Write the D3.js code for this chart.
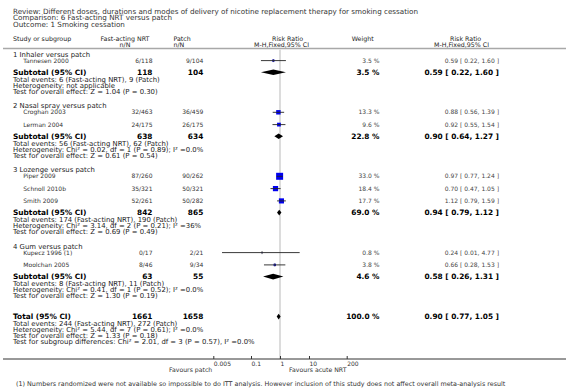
<!DOCTYPE html>
<html>
<head>
<meta charset="utf-8">
<script src="https://cdn.jsdelivr.net/npm/d3@7"></script>
<style>
  body { margin: 0; background: #fff; }
  svg { display: block; font-family: "DejaVu Sans", Verdana, sans-serif; }
</style>
</head>
<body>
<script>
// header lines
const titleLines = [
  "Review:  Different doses, durations and modes of delivery of nicotine replacement therapy for smoking cessation",
  "Comparison:  6 Fast-acting NRT versus patch",
  "Outcome:  1 Smoking cessation"
];

// subgroups
const groups = ["1 Inhaler versus patch", "2 Nasal spray versus patch", "3 Lozenge versus patch", "4 Gum versus patch"];

// studies
const studies = ["Tannesen 2000", "Croghan 2003", "Lerman 2004", "Piper 2009", "Schnoll 2010b", "Smith 2009", "Kupecz 1996 (1)", "Moolchan 2005"];
const studyGroup = [0, 1, 1, 2, 2, 2, 3, 3];
const fastNRT = ["6/118", "32/463", "24/175", "87/260", "35/321", "52/261", "0/17", "8/46"];
const patch = ["9/104", "36/459", "26/175", "90/262", "50/321", "50/282", "2/21", "9/34"];
const weight = [3.5, 13.3, 9.6, 33.0, 18.4, 17.7, 0.8, 3.8];
const rr = [0.59, 0.88, 0.92, 0.97, 0.70, 1.12, 0.24, 0.66];
const rrLo = [0.22, 0.56, 0.55, 0.77, 0.47, 0.79, 0.01, 0.28];
const rrHi = [1.60, 1.39, 1.54, 1.24, 1.05, 1.59, 4.77, 1.53];

// subtotals
const subFast = [118, 638, 842, 63];
const subPatch = [104, 634, 865, 55];
const subWeight = [3.5, 22.8, 69.0, 4.6];
const subRR = [0.59, 0.90, 0.94, 0.58];
const subLo = [0.22, 0.64, 0.79, 0.26];
const subHi = [1.60, 1.27, 1.12, 1.31];
const subStats = [
  ["Total events: 6 (Fast-acting NRT), 9 (Patch)", "Heterogeneity: not applicable", "Test for overall effect: Z = 1.04 (P = 0.30)"],
  ["Total events: 56 (Fast-acting NRT), 62 (Patch)", "Heterogeneity: Chi\u00b2 = 0.02, df = 1 (P = 0.89); I\u00b2 =0.0%", "Test for overall effect: Z = 0.61 (P = 0.54)"],
  ["Total events: 174 (Fast-acting NRT), 190 (Patch)", "Heterogeneity: Chi\u00b2 = 3.14, df = 2 (P = 0.21); I\u00b2 =36%", "Test for overall effect: Z = 0.69 (P = 0.49)"],
  ["Total events: 8 (Fast-acting NRT), 11 (Patch)", "Heterogeneity: Chi\u00b2 = 0.41, df = 1 (P = 0.52); I\u00b2 =0.0%", "Test for overall effect: Z = 1.30 (P = 0.19)"]
];

// overall
const totalFast = 1661, totalPatch = 1658, totalWeight = 100.0;
const totalRR = 0.90, totalLo = 0.77, totalHi = 1.05;
const totalStats = [
  "Total events: 244 (Fast-acting NRT), 272 (Patch)",
  "Heterogeneity: Chi\u00b2 = 5.44, df = 7 (P = 0.61); I\u00b2 =0.0%",
  "Test for overall effect: Z = 1.33 (P = 0.18)",
  "Test for subgroup differences: Chi\u00b2 = 2.01, df = 3 (P = 0.57), I\u00b2 =0.0%"
];

const axisTicks = [0.005, 0.1, 1, 10, 200];
const footnote = "(1) Numbers randomized were not available so impossible to do ITT analysis. However inclusion of this study does not affect overall meta-analysis result";

const W = 566, H = 388;
const svg = d3.select("body").append("svg").attr("width", W).attr("height", H);

const x = d3.scaleLog().domain([0.005, 200]).range([213.3, 346.7]);
const box = d3.scaleSqrt().domain([0, 33]).range([0, 7]);

const colFast = 152.5, colPatch = 203.3, colWeight = 379.5, colCI = 499;
const fmtCI = (e, l, h) => e.toFixed(2) + " [ " + l.toFixed(2) + ", " + h.toFixed(2) + " ]";
const fmtW = w => w.toFixed(1) + " %";

// text sizes
const fsTitle = 7.2, fsHead = 6.3, fsStat = 6.9, fsStudy = 6, fsBold = 7.4;

function txt(xp, y, s, opt) {
  opt = opt || {};
  return svg.append("text")
    .attr("x", xp).attr("y", y).attr("dy", "0.35em")
    .attr("text-anchor", opt.anchor || "start")
    .style("font-size", (opt.size || fsStat) + "px")
    .style("font-weight", opt.bold ? "bold" : "normal")
    .style("fill", opt.fill || "#222")
    .text(s);
}

// title block
titleLines.forEach((t, i) => txt(13, 11 + i * 6.6, t, { size: fsTitle, fill: "#333" }));

// column headers
txt(13, 38.3, "Study or subgroup", { size: fsHead });
txt(125, 38.3, "Fast-acting NRT", { anchor: "middle", size: fsHead });
txt(125, 44.3, "n/N", { anchor: "middle", size: fsHead });
txt(173.5, 38.3, "Patch", { size: fsHead });
txt(173.5, 44.3, "n/N", { size: fsHead });
txt(272, 38.3, "Risk Ratio", { size: fsHead });
txt(254, 44.3, "M-H,Fixed,95% CI", { size: fsHead });
txt(351.7, 38.3, "Weight", { size: fsHead });
txt(450, 38.3, "Risk Ratio", { size: fsHead });
txt(434, 44.3, "M-H,Fixed,95% CI", { size: fsHead });

svg.append("line")
  .attr("x1", 3).attr("x2", W).attr("y1", 48.5).attr("y2", 48.5)
  .attr("stroke", "#a8a8a8").attr("stroke-width", 1.5);

// vertical line of no effect
svg.append("line")
  .attr("x1", x(1)).attr("x2", x(1)).attr("y1", 49.5).attr("y2", 359)
  .attr("stroke", "#dcdcdc").attr("stroke-width", 2);

// row layout
let y = 54.3;
const studyRows = [], subRows = [];
groups.forEach((g, gi) => {
  txt(13, y, g);
  y += 6.3;
  const idx = studies.map((s, i) => i).filter(i => studyGroup[i] === gi);
  idx.forEach((i, k) => {
    if (k > 0) y += 12.3;
    studyRows.push({ i: i, y: y });
  });
  y += 11.7;
  subRows.push({ g: gi, y: y });
  y += 7;
  subStats[gi].forEach((s, k) => txt(13, y + k * 6, s));
  y += 12;
  y += (gi < groups.length - 1) ? 14.7 : 21;
});
const totalY = y;
totalStats.forEach((s, k) => txt(13, totalY + 7 + k * 6, s));

// study rows text
studyRows.forEach(r => {
  const i = r.i;
  txt(23.3, r.y, studies[i], { size: fsStudy, fill: "#333" });
  txt(colFast, r.y, fastNRT[i], { size: fsStudy, anchor: "end", fill: "#333" });
  txt(colPatch, r.y, patch[i], { size: fsStudy, anchor: "end", fill: "#333" });
  txt(colWeight, r.y, fmtW(weight[i]), { size: fsStudy, anchor: "end", fill: "#444" });
  txt(colCI, r.y, fmtCI(rr[i], rrLo[i], rrHi[i]), { size: fsStudy, anchor: "end", fill: "#444" });
});

// study marks: boxes then CI lines
const marks = svg.append("g");
marks.selectAll("rect").data(studyRows).enter().append("rect")
  .attr("x", d => x(rr[d.i]) - box(weight[d.i]) / 2)
  .attr("y", d => d.y - box(weight[d.i]) / 2)
  .attr("width", d => box(weight[d.i]))
  .attr("height", d => box(weight[d.i]))
  .attr("fill", "#0000f0");
marks.selectAll("line.ci").data(studyRows).enter().append("line")
  .attr("class", "ci")
  .attr("x1", d => x(rrLo[d.i])).attr("x2", d => x(rrHi[d.i]))
  .attr("y1", d => d.y).attr("y2", d => d.y)
  .attr("stroke", "#222").attr("stroke-width", 0.9);
marks.selectAll("line.pt").data(studyRows.filter(d => weight[d.i] < 5)).enter().append("line")
  .attr("class", "pt")
  .attr("x1", d => x(rr[d.i])).attr("x2", d => x(rr[d.i]))
  .attr("y1", d => d.y - 1.5).attr("y2", d => d.y + 1.5)
  .attr("stroke", "#333").attr("stroke-width", 0.8);

function diamond(e, l, h, yy, hh) {
  svg.append("path")
    .attr("d", "M" + x(l) + "," + yy + "L" + x(e) + "," + (yy - hh) + "L" + x(h) + "," + yy + "L" + x(e) + "," + (yy + hh) + "Z")
    .attr("fill", "#000");
}

// subtotal rows
subRows.forEach(r => {
  const g = r.g;
  txt(13, r.y, "Subtotal (95% CI)", { size: fsBold, bold: true, fill: "#000" });
  txt(colFast, r.y, subFast[g], { size: fsBold, bold: true, anchor: "end", fill: "#000" });
  txt(colPatch, r.y, subPatch[g], { size: fsBold, bold: true, anchor: "end", fill: "#000" });
  txt(colWeight, r.y, fmtW(subWeight[g]), { size: fsBold, bold: true, anchor: "end", fill: "#000" });
  txt(colCI, r.y, fmtCI(subRR[g], subLo[g], subHi[g]), { size: fsBold, bold: true, anchor: "end", fill: "#000" });
  diamond(subRR[g], subLo[g], subHi[g], r.y, 2.8);
});

// total row
txt(13, totalY, "Total (95% CI)", { size: fsBold, bold: true, fill: "#000" });
txt(colFast, totalY, totalFast, { size: fsBold, bold: true, anchor: "end", fill: "#000" });
txt(colPatch, totalY, totalPatch, { size: fsBold, bold: true, anchor: "end", fill: "#000" });
txt(colWeight, totalY, fmtW(totalWeight), { size: fsBold, bold: true, anchor: "end", fill: "#000" });
txt(colCI, totalY, fmtCI(totalRR, totalLo, totalHi), { size: fsBold, bold: true, anchor: "end", fill: "#000" });
diamond(totalRR, totalLo, totalHi, totalY, 2.8);

// axis
const axisY = 359;
svg.append("line")
  .attr("x1", 3).attr("x2", W).attr("y1", axisY).attr("y2", axisY)
  .attr("stroke", "#333").attr("stroke-width", 1);
const ax = svg.append("g")
  .attr("transform", "translate(0," + axisY + ")")
  .call(d3.axisBottom(x).tickValues(axisTicks).tickSize(-3).tickFormat(d => String(d)));
ax.select(".domain").remove();
ax.selectAll(".tick line").attr("stroke", "#333");
ax.selectAll(".tick text")
  .attr("text-anchor", "start").attr("y", 5).attr("dy", "0.35em")
  .style("font-family", "DejaVu Sans").style("font-size", "6px").style("fill", "#333");

txt(x(0.005) - 1, 369.5, "Favours patch", { anchor: "end", size: 6.2, fill: "#333" });
txt(x(1) + 9, 369.5, "Favours acute NRT", { size: 6.2, fill: "#333" });

// footnote
txt(16, 383.7, footnote, { size: 6.4, fill: "#333" });
</script>
</body>
</html>
